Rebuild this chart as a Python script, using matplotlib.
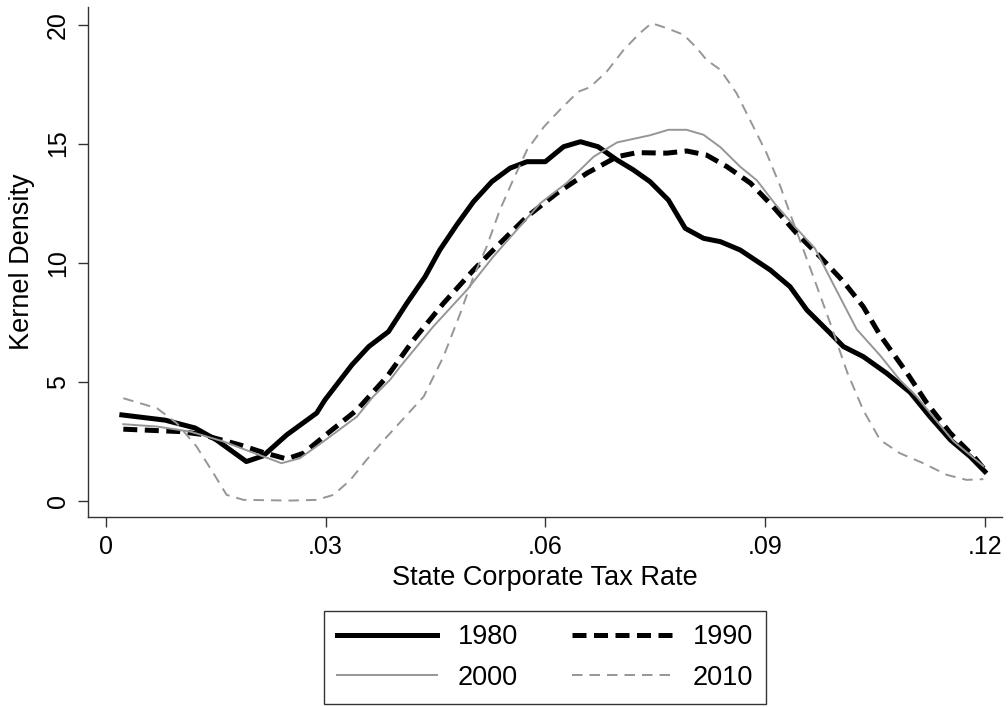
import matplotlib
matplotlib.use("Agg")
import matplotlib.pyplot as plt

plt.rcParams['font.family'] = ['Liberation Sans', 'DejaVu Sans']

x1980 = [0.0022, 0.0081, 0.0122, 0.0151, 0.0192, 0.0215, 0.0247, 0.0288, 0.0299, 0.0336, 0.0359, 0.0386,
         0.0411, 0.0436, 0.0456, 0.0479, 0.0502, 0.0527, 0.0552, 0.0575, 0.0600, 0.0625, 0.0648, 0.0672,
         0.0698, 0.0720, 0.0743, 0.0768, 0.0791, 0.0816, 0.0839, 0.0866, 0.0907, 0.0934, 0.0957, 0.0989,
         0.1007, 0.1034, 0.1066, 0.1098, 0.1125, 0.1153, 0.1180, 0.1200]
y1980 = [3.60, 3.38, 3.05, 2.55, 1.64, 1.88, 2.76, 3.68, 4.22, 5.70, 6.47, 7.10,
         8.29, 9.41, 10.53, 11.58, 12.56, 13.40, 13.97, 14.24, 14.24, 14.87, 15.08, 14.87,
         14.31, 13.90, 13.40, 12.63, 11.44, 11.02, 10.88, 10.53, 9.69, 8.99, 8.01, 7.03,
         6.47, 6.05, 5.35, 4.55, 3.53, 2.55, 1.85, 1.22]

x1990 = [0.0024, 0.0101, 0.0129, 0.0183, 0.0215, 0.0247, 0.0270, 0.0306, 0.0343, 0.0384, 0.0420, 0.0461,
         0.0502, 0.0538, 0.0575, 0.0616, 0.0657, 0.0698, 0.0725, 0.0766, 0.0793, 0.0820, 0.0848, 0.0880,
         0.0911, 0.0943, 0.0975, 0.1007, 0.1034, 0.1057, 0.1094, 0.1121, 0.1153, 0.1185, 0.1200]
y1990 = [3.00, 2.90, 2.79, 2.34, 2.02, 1.75, 1.99, 2.90, 3.81, 5.21, 6.75, 8.29,
         9.69, 10.81, 11.93, 12.92, 13.76, 14.45, 14.62, 14.60, 14.69, 14.52, 14.03, 13.34,
         12.35, 11.23, 10.25, 9.20, 8.15, 6.95, 5.35, 4.09, 2.83, 1.85, 1.29]

x2000 = [0.0024, 0.0070, 0.0115, 0.0161, 0.0197, 0.0240, 0.0265, 0.0297, 0.0343, 0.0365, 0.0388, 0.0402,
         0.0447, 0.0493, 0.0529, 0.0561, 0.0593, 0.0629, 0.0666, 0.0698, 0.0725, 0.0743, 0.0768, 0.0793,
         0.0816, 0.0839, 0.0866, 0.0889, 0.0914, 0.0941, 0.0968, 0.0993, 0.1025, 0.1057, 0.1084, 0.1107,
         0.1130, 0.1157, 0.1198]
y2000 = [3.21, 3.11, 2.90, 2.48, 2.06, 1.57, 1.78, 2.48, 3.53, 4.37, 5.07, 5.63,
         7.31, 8.85, 10.25, 11.37, 12.49, 13.34, 14.45, 15.05, 15.23, 15.35, 15.58, 15.58,
         15.37, 14.85, 14.03, 13.45, 12.45, 11.50, 10.60, 9.10, 7.20, 6.10, 5.07, 4.37,
         3.50, 2.50, 1.45]

x2010 = [0.0024, 0.0070, 0.0097, 0.0124, 0.0147, 0.0165, 0.0188, 0.0252, 0.0288, 0.0311, 0.0334, 0.0356,
         0.0384, 0.0434, 0.0461, 0.0484, 0.0502, 0.0520, 0.0538, 0.0556, 0.0575, 0.0598, 0.0620, 0.0645,
         0.0661, 0.0684, 0.0707, 0.0729, 0.0745, 0.0766, 0.0789, 0.0807, 0.0820, 0.0839, 0.0861, 0.0884,
         0.0902, 0.0921, 0.0934, 0.0948, 0.0966, 0.0989, 0.1012, 0.1034, 0.1057, 0.1084, 0.1116, 0.1148,
         0.1175, 0.1198]
y2010 = [4.30, 3.88, 3.25, 2.27, 1.15, 0.24, 0.03, 0.00, 0.03, 0.24, 0.87, 1.71,
         2.69, 4.37, 6.05, 7.87, 9.41, 10.67, 12.21, 13.47, 14.73, 15.70, 16.42, 17.18,
         17.37, 18.03, 18.94, 19.64, 20.06, 19.85, 19.57, 19.01, 18.52, 18.10, 17.12, 15.71,
         14.60, 13.19, 12.07, 10.90, 9.40, 7.45, 5.40, 3.80, 2.55, 1.99, 1.57, 1.08,
         0.87, 0.90]

xticks = [0, 0.03, 0.06, 0.09, 0.12]
xticklabels = ['0', '.03', '.06', '.09', '.12']
yticks = [0, 5, 10, 15, 20]
yticklabels = ['0', '5', '10', '15', '20']

fig = plt.figure(figsize=(10.08, 7.07), dpi=100)
ax = fig.add_axes([88 / 1008, 1 - 517 / 707, (1001.7 - 88) / 1008, (517 - 7) / 707])

gray = '#969696'
l80, = ax.plot(x1980, y1980, color='black', lw=3.6, solid_joinstyle='round', label='1980')
l90, = ax.plot(x1990, y1990, color='black', lw=3.6, dashes=(2.8, 1.5), label='1990')
l00, = ax.plot(x2000, y2000, color=gray, lw=1.4, label='2000')
l10, = ax.plot(x2010, y2010, color=gray, lw=1.4, dashes=(5.4, 3.6), label='2010')

ax.set_xlim(-0.00242, 0.1223)
ax.set_ylim(-0.69, 20.74)
ax.set_xticks(xticks)
ax.set_xticklabels(xticklabels)
ax.set_yticks(yticks)
ax.set_yticklabels(yticklabels, rotation=90, va='center')

for s in ['top', 'right']:
    ax.spines[s].set_visible(False)
for s in ['left', 'bottom']:
    ax.spines[s].set_linewidth(1.0)
    ax.spines[s].set_color('#333333')
ax.tick_params(axis='both', length=7, width=1.0, color='#333333', labelsize=18, pad=6)

ax.set_xlabel('State Corporate Tax Rate', fontsize=19.5, labelpad=4)
ax.set_ylabel('Kernel Density', fontsize=19.5, labelpad=8)

# column-major fill so rows read 1980, 1990 / 2000, 2010
handles = [l80, l00, l90, l10]
labels = [h.get_label() for h in handles]
leg = fig.legend(handles, labels, loc='center', bbox_to_anchor=(545 / 1008, 1 - 657.5 / 707), ncol=2,
                 fontsize=19.5, handlelength=3.7, handletextpad=0.75, columnspacing=2.0,
                 labelspacing=0.55, borderpad=0.5, frameon=True, fancybox=False)
leg.get_frame().set_edgecolor('black')
leg.get_frame().set_linewidth(1.0)

fig.savefig('out.png', dpi=100)
